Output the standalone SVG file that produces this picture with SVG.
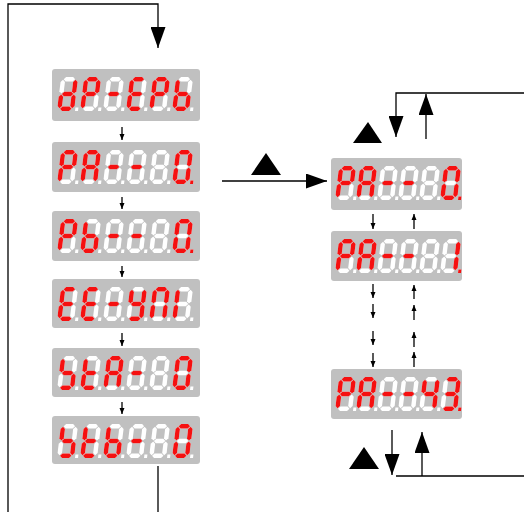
<svg xmlns="http://www.w3.org/2000/svg" width="524" height="512" viewBox="0 0 524 512">
<style>
.bx{fill:#c0c0c0}
.r{fill:#f51010}
.ln{stroke:#000;stroke-width:1.3;fill:none}
.tri{fill:#000}
</style>
<defs>
<polygon id="sa" points="2.8,2.2 5,0 12,0 14.2,2.2 12,4.4 5,4.4"/>
<polygon id="sb" points="14.8,2.8 17,5 17,14.2 14.8,16.4 12.6,14.2 12.6,5"/>
<polygon id="sc" points="14.8,17.6 17,19.8 17,29 14.8,31.2 12.6,29 12.6,19.8"/>
<polygon id="sd" points="2.8,31.8 5,29.6 12,29.6 14.2,31.8 12,34 5,34"/>
<polygon id="se" points="2.2,17.6 4.4,19.8 4.4,29 2.2,31.2 0,29 0,19.8"/>
<polygon id="sf" points="2.2,2.8 4.4,5 4.4,14.2 2.2,16.4 0,14.2 0,5"/>
<polygon id="sg" points="2.8,17 5,14.8 12,14.8 14.2,17 12,19.2 5,19.2"/>
<rect id="dp" x="18" y="30.4" width="3" height="3.6"/>
<g id="o" fill="#fff"><use href="#sa"/><use href="#sb"/><use href="#sc"/><use href="#sd"/><use href="#se"/><use href="#sf"/><use href="#sg"/><use href="#dp"/></g>
<marker id="big" markerUnits="userSpaceOnUse" markerWidth="21" markerHeight="15" refX="21" refY="7.5" orient="auto"><path d="M0,0L21,7.5L0,15z"/></marker>
<marker id="sm" markerUnits="userSpaceOnUse" markerWidth="6" markerHeight="6" refX="6" refY="3" orient="auto"><path d="M0,0.5L6,3L0,5.5z"/></marker>
</defs>
<rect width="524" height="512" fill="#fff"/>

<g id="connectors">
<path class="ln" d="M8,512V4H158V48" marker-end="url(#big)"/>
<path class="ln" d="M158,466V512"/>
<path class="ln" d="M122,127V140" marker-end="url(#sm)"/>
<path class="ln" d="M122,197V209" marker-end="url(#sm)"/>
<path class="ln" d="M122,266V277" marker-end="url(#sm)"/>
<path class="ln" d="M122,333V346" marker-end="url(#sm)"/>
<path class="ln" d="M122,402V414" marker-end="url(#sm)"/>
<path class="ln" d="M222,181H327" marker-end="url(#big)"/>
<path class="ln" d="M524,93H396V137" marker-end="url(#big)"/>
<path class="ln" d="M426,139V94" marker-end="url(#big)"/>
<path class="ln" d="M373,214V229" marker-end="url(#sm)"/>
<path class="ln" d="M414,229V214" marker-end="url(#sm)"/>
<path class="ln" d="M373,284V298" marker-end="url(#sm)"/>
<path class="ln" d="M373,304V318" marker-end="url(#sm)"/>
<path class="ln" d="M373,331V345" marker-end="url(#sm)"/>
<path class="ln" d="M373,353V367" marker-end="url(#sm)"/>
<path class="ln" d="M414,299V285" marker-end="url(#sm)"/>
<path class="ln" d="M414,320V305" marker-end="url(#sm)"/>
<path class="ln" d="M414,347V332" marker-end="url(#sm)"/>
<path class="ln" d="M414,367V352" marker-end="url(#sm)"/>
<path class="ln" d="M392,430V475" marker-end="url(#big)"/>
<path class="ln" d="M422,476V432" marker-end="url(#big)"/>
<path class="ln" d="M396,476H524"/>
</g>

<g id="up-keys">
<polygon class="tri" points="266,153 251,175 281,175"/>
<polygon class="tri" points="368,122 353,143 382,143"/>
<polygon class="tri" points="364,447 349,469 379,469"/>
</g>

<g id="disp-dP-EPb">
<rect class="bx" x="52" y="69" width="148" height="52" rx="3"/>
<g transform="translate(61.17,77) skewX(-7)"><use href="#o"/><use href="#sb" class="r"/><use href="#sc" class="r"/><use href="#sd" class="r"/><use href="#se" class="r"/><use href="#sg" class="r"/></g>
<g transform="translate(84.17,77) skewX(-7)"><use href="#o"/><use href="#sa" class="r"/><use href="#sb" class="r"/><use href="#se" class="r"/><use href="#sf" class="r"/><use href="#sg" class="r"/></g>
<g transform="translate(107.17,77) skewX(-7)"><use href="#o"/><use href="#sg" class="r"/></g>
<g transform="translate(130.17,77) skewX(-7)"><use href="#o"/><use href="#sa" class="r"/><use href="#sd" class="r"/><use href="#se" class="r"/><use href="#sf" class="r"/><use href="#sg" class="r"/></g>
<g transform="translate(153.17,77) skewX(-7)"><use href="#o"/><use href="#sa" class="r"/><use href="#sb" class="r"/><use href="#se" class="r"/><use href="#sf" class="r"/><use href="#sg" class="r"/></g>
<g transform="translate(176.17,77) skewX(-7)"><use href="#o"/><use href="#sc" class="r"/><use href="#sd" class="r"/><use href="#se" class="r"/><use href="#sf" class="r"/><use href="#sg" class="r"/></g>
</g>

<g id="disp-PA-0-left">
<rect class="bx" x="52" y="142" width="148" height="50" rx="3"/>
<g transform="translate(61.17,150) skewX(-7)"><use href="#o"/><use href="#sa" class="r"/><use href="#sb" class="r"/><use href="#se" class="r"/><use href="#sf" class="r"/><use href="#sg" class="r"/></g>
<g transform="translate(84.17,150) skewX(-7)"><use href="#o"/><use href="#sa" class="r"/><use href="#sb" class="r"/><use href="#sc" class="r"/><use href="#se" class="r"/><use href="#sf" class="r"/><use href="#sg" class="r"/></g>
<g transform="translate(107.17,150) skewX(-7)"><use href="#o"/><use href="#sg" class="r"/></g>
<g transform="translate(130.17,150) skewX(-7)"><use href="#o"/><use href="#sg" class="r"/></g>
<g transform="translate(153.17,150) skewX(-7)"><use href="#o"/></g>
<g transform="translate(176.17,150) skewX(-7)"><use href="#o"/><use href="#sa" class="r"/><use href="#sb" class="r"/><use href="#sc" class="r"/><use href="#sd" class="r"/><use href="#se" class="r"/><use href="#sf" class="r"/><use href="#dp" class="r"/></g>
</g>

<g id="disp-Pb-0">
<rect class="bx" x="52" y="211" width="148" height="50" rx="3"/>
<g transform="translate(61.17,219) skewX(-7)"><use href="#o"/><use href="#sa" class="r"/><use href="#sb" class="r"/><use href="#se" class="r"/><use href="#sf" class="r"/><use href="#sg" class="r"/></g>
<g transform="translate(84.17,219) skewX(-7)"><use href="#o"/><use href="#sc" class="r"/><use href="#sd" class="r"/><use href="#se" class="r"/><use href="#sf" class="r"/><use href="#sg" class="r"/></g>
<g transform="translate(107.17,219) skewX(-7)"><use href="#o"/><use href="#sg" class="r"/></g>
<g transform="translate(130.17,219) skewX(-7)"><use href="#o"/><use href="#sg" class="r"/></g>
<g transform="translate(153.17,219) skewX(-7)"><use href="#o"/></g>
<g transform="translate(176.17,219) skewX(-7)"><use href="#o"/><use href="#sa" class="r"/><use href="#sb" class="r"/><use href="#sc" class="r"/><use href="#sd" class="r"/><use href="#se" class="r"/><use href="#sf" class="r"/><use href="#dp" class="r"/></g>
</g>

<g id="disp-EE-VAL">
<rect class="bx" x="52" y="279" width="148" height="49" rx="3"/>
<g transform="translate(61.17,287) skewX(-7)"><use href="#o"/><use href="#sa" class="r"/><use href="#sd" class="r"/><use href="#se" class="r"/><use href="#sf" class="r"/><use href="#sg" class="r"/></g>
<g transform="translate(84.17,287) skewX(-7)"><use href="#o"/><use href="#sa" class="r"/><use href="#sd" class="r"/><use href="#se" class="r"/><use href="#sf" class="r"/><use href="#sg" class="r"/></g>
<g transform="translate(107.17,287) skewX(-7)"><use href="#o"/><use href="#sg" class="r"/></g>
<g transform="translate(130.17,287) skewX(-7)"><use href="#o"/><use href="#sb" class="r"/><use href="#sc" class="r"/><use href="#sd" class="r"/><use href="#sf" class="r"/><use href="#sg" class="r"/></g>
<g transform="translate(153.17,287) skewX(-7)"><use href="#o"/><use href="#sa" class="r"/><use href="#sb" class="r"/><use href="#sc" class="r"/><use href="#se" class="r"/><use href="#sf" class="r"/></g>
<g transform="translate(176.17,287) skewX(-7)"><use href="#o"/><use href="#se" class="r"/><use href="#sf" class="r"/></g>
</g>

<g id="disp-StA-0">
<rect class="bx" x="52" y="348" width="148" height="49" rx="3"/>
<g transform="translate(61.17,356) skewX(-7)"><use href="#o"/><use href="#sc" class="r"/><use href="#sd" class="r"/><use href="#sf" class="r"/><use href="#sg" class="r"/></g>
<g transform="translate(84.17,356) skewX(-7)"><use href="#o"/><use href="#sd" class="r"/><use href="#se" class="r"/><use href="#sf" class="r"/><use href="#sg" class="r"/></g>
<g transform="translate(107.17,356) skewX(-7)"><use href="#o"/><use href="#sa" class="r"/><use href="#sb" class="r"/><use href="#sc" class="r"/><use href="#se" class="r"/><use href="#sf" class="r"/><use href="#sg" class="r"/></g>
<g transform="translate(130.17,356) skewX(-7)"><use href="#o"/><use href="#sg" class="r"/></g>
<g transform="translate(153.17,356) skewX(-7)"><use href="#o"/></g>
<g transform="translate(176.17,356) skewX(-7)"><use href="#o"/><use href="#sa" class="r"/><use href="#sb" class="r"/><use href="#sc" class="r"/><use href="#sd" class="r"/><use href="#se" class="r"/><use href="#sf" class="r"/></g>
</g>

<g id="disp-Stb-0">
<rect class="bx" x="52" y="416" width="148" height="48" rx="3"/>
<g transform="translate(61.17,424) skewX(-7)"><use href="#o"/><use href="#sc" class="r"/><use href="#sd" class="r"/><use href="#sf" class="r"/><use href="#sg" class="r"/></g>
<g transform="translate(84.17,424) skewX(-7)"><use href="#o"/><use href="#sd" class="r"/><use href="#se" class="r"/><use href="#sf" class="r"/><use href="#sg" class="r"/></g>
<g transform="translate(107.17,424) skewX(-7)"><use href="#o"/><use href="#sc" class="r"/><use href="#sd" class="r"/><use href="#se" class="r"/><use href="#sf" class="r"/><use href="#sg" class="r"/></g>
<g transform="translate(130.17,424) skewX(-7)"><use href="#o"/><use href="#sg" class="r"/></g>
<g transform="translate(153.17,424) skewX(-7)"><use href="#o"/></g>
<g transform="translate(176.17,424) skewX(-7)"><use href="#o"/><use href="#sa" class="r"/><use href="#sb" class="r"/><use href="#sc" class="r"/><use href="#sd" class="r"/><use href="#se" class="r"/><use href="#sf" class="r"/></g>
</g>

<g id="disp-PA-0-right">
<rect class="bx" x="331" y="158" width="131" height="52" rx="3"/>
<g transform="translate(339.17,166) skewX(-7)"><use href="#o"/><use href="#sa" class="r"/><use href="#sb" class="r"/><use href="#se" class="r"/><use href="#sf" class="r"/><use href="#sg" class="r"/></g>
<g transform="translate(360.17,166) skewX(-7)"><use href="#o"/><use href="#sa" class="r"/><use href="#sb" class="r"/><use href="#sc" class="r"/><use href="#se" class="r"/><use href="#sf" class="r"/><use href="#sg" class="r"/></g>
<g transform="translate(381.17,166) skewX(-7)"><use href="#o"/><use href="#sg" class="r"/></g>
<g transform="translate(402.17,166) skewX(-7)"><use href="#o"/><use href="#sg" class="r"/></g>
<g transform="translate(423.17,166) skewX(-7)"><use href="#o"/></g>
<g transform="translate(444.17,166) skewX(-7)"><use href="#o"/><use href="#sa" class="r"/><use href="#sb" class="r"/><use href="#sc" class="r"/><use href="#sd" class="r"/><use href="#se" class="r"/><use href="#sf" class="r"/><use href="#dp" class="r"/></g>
</g>

<g id="disp-PA-1">
<rect class="bx" x="331" y="231" width="131" height="50" rx="3"/>
<g transform="translate(339.17,239) skewX(-7)"><use href="#o"/><use href="#sa" class="r"/><use href="#sb" class="r"/><use href="#se" class="r"/><use href="#sf" class="r"/><use href="#sg" class="r"/></g>
<g transform="translate(360.17,239) skewX(-7)"><use href="#o"/><use href="#sa" class="r"/><use href="#sb" class="r"/><use href="#sc" class="r"/><use href="#se" class="r"/><use href="#sf" class="r"/><use href="#sg" class="r"/></g>
<g transform="translate(381.17,239) skewX(-7)"><use href="#o"/><use href="#sg" class="r"/></g>
<g transform="translate(402.17,239) skewX(-7)"><use href="#o"/><use href="#sg" class="r"/></g>
<g transform="translate(423.17,239) skewX(-7)"><use href="#o"/></g>
<g transform="translate(444.17,239) skewX(-7)"><use href="#o"/><use href="#sb" class="r"/><use href="#sc" class="r"/><use href="#dp" class="r"/></g>
</g>

<g id="disp-PA-43">
<rect class="bx" x="331" y="369" width="131" height="50" rx="3"/>
<g transform="translate(339.17,377) skewX(-7)"><use href="#o"/><use href="#sa" class="r"/><use href="#sb" class="r"/><use href="#se" class="r"/><use href="#sf" class="r"/><use href="#sg" class="r"/></g>
<g transform="translate(360.17,377) skewX(-7)"><use href="#o"/><use href="#sa" class="r"/><use href="#sb" class="r"/><use href="#sc" class="r"/><use href="#se" class="r"/><use href="#sf" class="r"/><use href="#sg" class="r"/></g>
<g transform="translate(381.17,377) skewX(-7)"><use href="#o"/><use href="#sg" class="r"/></g>
<g transform="translate(402.17,377) skewX(-7)"><use href="#o"/><use href="#sg" class="r"/></g>
<g transform="translate(423.17,377) skewX(-7)"><use href="#o"/><use href="#sb" class="r"/><use href="#sc" class="r"/><use href="#sf" class="r"/><use href="#sg" class="r"/></g>
<g transform="translate(444.17,377) skewX(-7)"><use href="#o"/><use href="#sa" class="r"/><use href="#sb" class="r"/><use href="#sc" class="r"/><use href="#sd" class="r"/><use href="#sg" class="r"/><use href="#dp" class="r"/></g>
</g>
</svg>
